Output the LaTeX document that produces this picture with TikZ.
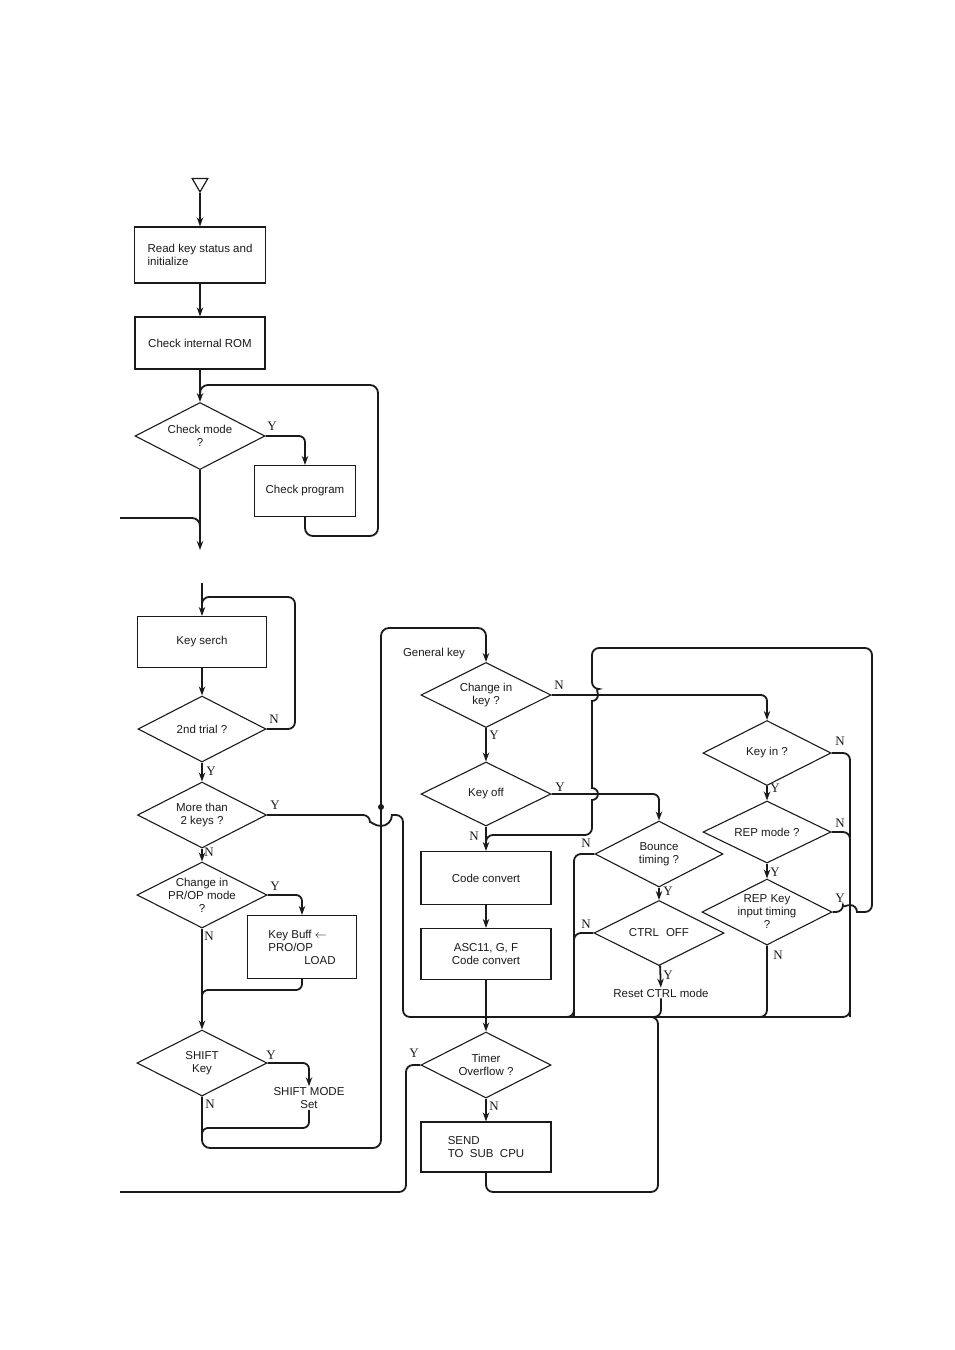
\documentclass[tikz,border=0pt]{standalone}
\usepackage{fontspec}
\setmainfont{Liberation Sans}
\newfontfamily\ynserif{Liberation Serif}
\usetikzlibrary{arrows.meta,shapes.geometric}
\definecolor{ink}{HTML}{1A1A1A}
\newcommand{\chartfont}{\fontsize{11.5}{13}\selectfont}
\newcommand{\ynfont}{\ynserif\fontsize{13}{14}\selectfont}
\tikzset{
 every node/.append style={font=\chartfont,text=ink},
 stepbox/.style={draw=ink,line width=1.2pt,inner sep=3pt,align=center,minimum width=130pt,minimum height=52pt},
 decision/.style={diamond,draw=ink,line width=1.1pt,aspect=2,inner xsep=-14pt,inner ysep=-8pt,align=center,minimum width=130pt,minimum height=66pt},
 word/.style={inner sep=1pt,align=center},
 yn/.style={font=\ynfont,inner sep=0pt},
 startmark/.style={regular polygon,regular polygon sides=3,shape border rotate=180,draw=ink,line width=1.2pt,minimum size=18pt,inner sep=0pt},
 dot/.style={circle,fill=ink,inner sep=0pt,minimum size=6pt},
 flow/.style={-{Stealth[length=9pt,width=6.5pt]},draw=ink,line width=1.8pt},
 route/.style={draw=ink,line width=1.8pt},
}

\begin{document}
\begin{tikzpicture}[x=1pt,y=-1pt]
\useasboundingbox (0,0) rectangle (954,1350);

% start-up part
\node[startmark] (start) at (200,183) {};
\node[stepbox,minimum width=131pt,minimum height=56pt,align=left] (rk) at (200,255) {Read key status and\\initialize};
\node[stepbox] (rom) at (200,343) {Check internal ROM};
\node[decision,minimum height=67pt] (cmode) at (200,436) {Check mode\\?};
\node[stepbox,minimum width=101pt,minimum height=51pt] (cprog) at (305,491) {Check program};

\coordinate (loopA) at (378,536);
\coordinate (loopB) at (200,385);
\coordinate (loopC) at (200,395);
\coordinate (outTop) at (200,550);
\coordinate (inTop) at (120,518);
\coordinate (joinTop) at (200,532);

\draw[flow] (start) -- (rk);
\draw[flow] (rk) -- (rom);
\draw[flow] (rom) -- (cmode);
\draw[flow,rounded corners=6pt] (cmode.east) -| (cprog.north);
\draw[route,rounded corners=8pt] (cprog.south) |- (loopA) |- (loopB) -- (loopC);
\draw[flow] (cmode) -- (outTop);
\draw[route,rounded corners=8pt] (inTop) -| (joinTop);
\node[yn] (cmodeY) at (272,426) {Y};

% key scan, left column
\node[stepbox,minimum width=129pt,minimum height=51pt] (ksearch) at (202,642) {Key serch};
\node[decision,minimum width=128pt] (trial) at (202,729) {2nd trial ?};
\node[decision,minimum width=129pt] (more) at (202,815) {More than\\2 keys ?};
\node[decision] (prop) at (202,895) {Change in\\PR/OP mode\\?};
\node[stepbox,minimum width=109pt,minimum height=63pt,align=left] (kbuff) at (302,947) {Key Buff $\leftarrow$\\PRO/OP\\\hspace*{36pt}LOAD};
\node[decision] (shift) at (202,1063) {SHIFT\\Key};
\node[word] (smode) at (309,1098) {SHIFT MODE\\Set};

\coordinate (inLow) at (202,583);
\coordinate (tr1) at (295,597);
\coordinate (tr2) at (202,597);
\coordinate (tr3) at (202,607);
\coordinate (kb1) at (202,990);
\coordinate (kb2) at (202,1000);
\coordinate (sm1) at (202,1128);
\coordinate (sm2) at (202,1138);
\coordinate (lbot) at (381,1148);
\coordinate (ltop) at (381,628);
\coordinate (hop3) at (370,815);
\coordinate (more1) at (403,815);
\coordinate (more2) at (403,1017);
\coordinate (busJ) at (486,1017);

\draw[flow] (inLow) -- (ksearch);
\draw[flow] (ksearch) -- (trial);
\draw[route,rounded corners=7pt] (trial.east) -| (tr1) -- (tr2) -- (tr3);
\draw[flow] (trial) -- (more);
\draw[flow] (more) -- (prop);
\draw[route,rounded corners=7pt] (more.east) -- (hop3) [sharp corners] arc[start angle=180,end angle=360,radius=11pt] [rounded corners=7pt] -- (more1) -- (more2) -- (busJ);
\draw[flow,rounded corners=6pt] (prop.east) -| (kbuff.north);
\draw[route,rounded corners=6pt] (kbuff.south) |- (kb1) -- (kb2);
\draw[flow] (prop) -- (shift);
\draw[flow,rounded corners=6pt] (shift.east) -| (smode.north);
\draw[route,rounded corners=6pt] (smode.south) |- (sm1) -- (sm2);
\node[dot] (cross) at (381,807) {};

\node[yn] (trialN) at (274,719) {N};
\node[yn] (trialY) at (211,771) {Y};
\node[yn] (moreY) at (275,805) {Y};
\node[yn] (moreN) at (209,852) {N};
\node[yn] (propY) at (275,886) {Y};
\node[yn] (propN) at (209,936) {N};
\node[yn] (shiftY) at (271,1055) {Y};
\node[yn] (shiftN) at (210,1104) {N};

% general key, middle column
\node[word] (gkey) at (434,654) {General key};
\node[decision,minimum height=65pt] (chkey) at (486,695) {Change in\\key ?};
\node[decision,minimum height=64pt] (keyoff) at (486,794) {Key off};
\node[stepbox,minimum height=53pt] (conv) at (486,878) {Code convert};
\node[stepbox,minimum height=51pt] (ascii) at (486,954) {ASC11, G, F\\Code convert};
\node[decision] (timer) at (486,1065) {Timer\\Overflow ?};
\node[stepbox,minimum height=50pt,align=left] (send) at (486,1147) {SEND\\TO\ \ SUB\ \ CPU};

\draw[flow,rounded corners=8pt] (shift.south) |- (lbot) -- (ltop) -| (chkey.north);
\draw[flow] (chkey) -- (keyoff);
\draw[flow] (keyoff) -- (conv);
\draw[flow] (conv) -- (ascii);
\draw[flow] (ascii) -- (timer);
\draw[flow] (timer) -- (send);

\coordinate (ty1) at (406,1192);
\coordinate (inBot) at (120,1192);
\coordinate (sd1) at (658,1192);
\draw[route,rounded corners=7pt] (timer.west) -| (ty1) -- (inBot);
\draw[route,rounded corners=7pt] (send.south) |- (sd1) |- (busJ);

\node[yn] (chkeyN) at (559,685) {N};
\node[yn] (chkeyY) at (494,735) {Y};
\node[yn] (keyoffY) at (560,787) {Y};
\node[yn] (keyoffN) at (474,836) {N};
\node[yn] (timerY) at (414,1053) {Y};
\node[yn] (timerN) at (494,1106) {N};

% bounce and repeat columns
\node[decision,minimum width=128pt] (bounce) at (659,854) {Bounce\\timing ?};
\node[decision,minimum height=65pt] (ctrl) at (659,933) {CTRL\hspace{7pt}OFF};
\node[word] (reset) at (661,993) {Reset CTRL mode};
\node[decision,minimum width=128pt,minimum height=65pt] (keyin) at (767,753) {Key in ?};
\node[decision,minimum width=128pt,minimum height=62pt] (rep) at (767,832) {REP mode ?};
\node[decision] (repkey) at (767,912) {REP Key\\input timing\\?};

\coordinate (busA) at (574,1017);
\coordinate (busR) at (850,1017);
\coordinate (hop4) at (843,912);
\coordinate (rk2) at (872,912);
\coordinate (rk3) at (872,648);
\coordinate (rk4) at (592,648);
\coordinate (hop1) at (592,689);
\coordinate (hop2) at (592,788);
\coordinate (rk5) at (592,835);
\coordinate (rk6) at (486,835);
\coordinate (rk7) at (486,845);

\draw[flow,rounded corners=6pt] (chkey.east) -| (keyin.north);
\draw[flow,rounded corners=6pt] (keyoff.east) -| (bounce.north);
\draw[flow] (bounce) -- (ctrl);
\draw[flow] (ctrl) -- (reset);
\draw[route,rounded corners=7pt] (bounce.west) -| (busA) -- (busJ);
\draw[route,rounded corners=7pt] (ctrl.west) -| (busA);
\draw[route,rounded corners=7pt] (reset) |- (busJ);
\draw[flow] (keyin) -- (rep);
\draw[flow] (rep) -- (repkey);
\draw[route,rounded corners=7pt] (keyin.east) -| (busR) -- (busJ);
\draw[route,rounded corners=7pt] (rep.east) -| (busR);
\draw[route,rounded corners=7pt] (repkey.south) |- (busJ);
\draw[route,rounded corners=7pt] (repkey.east) -- (hop4) [sharp corners] arc[start angle=180,end angle=0,radius=7pt] [rounded corners=7pt] -- (rk2) -- (rk3) -- (rk4) -- (hop1) [sharp corners] arc[start angle=90,end angle=-90,radius=6pt] -- (hop2) arc[start angle=90,end angle=-90,radius=6pt] [rounded corners=7pt] -- (rk5) -- (rk6) -- (rk7);

\node[yn] (bounceN) at (586,843) {N};
\node[yn] (bounceY) at (668,891) {Y};
\node[yn] (ctrlN) at (586,924) {N};
\node[yn] (ctrlY) at (668,975) {Y};
\node[yn] (keyinN) at (840,741) {N};
\node[yn] (keyinY) at (775,788) {Y};
\node[yn] (repN) at (840,823) {N};
\node[yn] (repY) at (775,872) {Y};
\node[yn] (repkeyY) at (840,898) {Y};
\node[yn] (repkeyN) at (778,955) {N};

\end{tikzpicture}
\end{document}
